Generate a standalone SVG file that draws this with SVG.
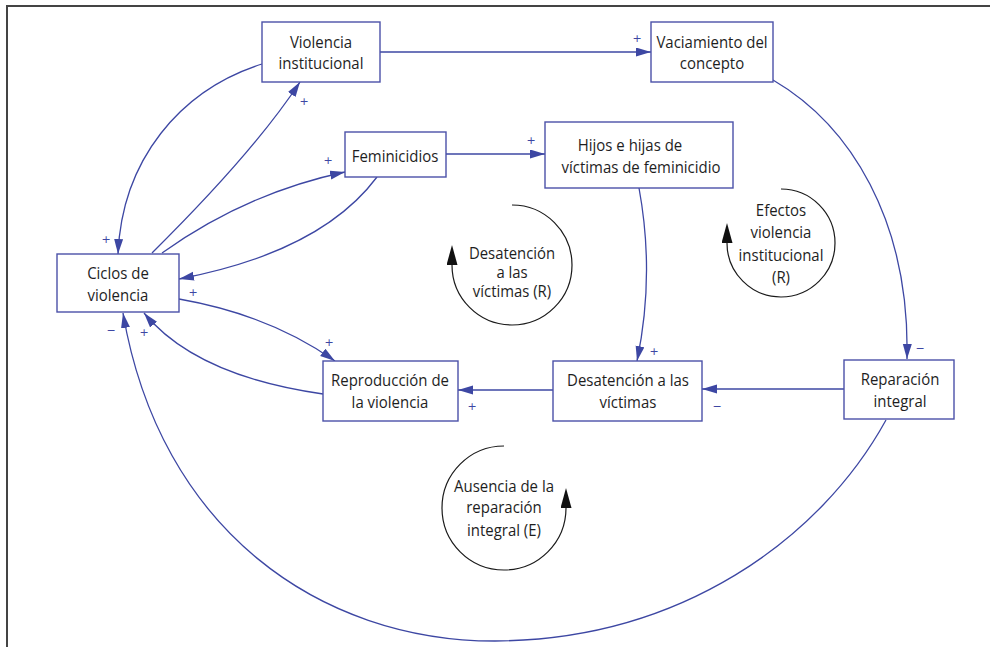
<svg xmlns="http://www.w3.org/2000/svg" width="993" height="647" viewBox="0 0 993 647">
<style>
.box{fill:#fff;stroke:#4b51a8;stroke-width:1.4}
.t{font-family:"Open Sans","Noto Sans","DejaVu Sans",sans-serif;font-size:17px;fill:#1e1e1e;text-anchor:middle}
.ts{font-size:15.5px}
.c{fill:none;stroke:#3d47a3;stroke-width:1.3}
.loop{fill:none;stroke:#1a1a1a;stroke-width:1.2}
.p{font-family:"DejaVu Sans",Verdana,sans-serif;font-size:11px;fill:#3d47a3;text-anchor:middle}
</style>
<defs>
<marker id="ah" markerUnits="userSpaceOnUse" markerWidth="17" markerHeight="11" refX="15" refY="4.5" orient="auto">
<path d="M0,0 L15,4.5 L0,9 z" fill="#3d47a3"/>
</marker>
<marker id="lh" markerUnits="userSpaceOnUse" markerWidth="22" markerHeight="12" refX="0" refY="5.5" orient="auto">
<path d="M0,0 L20,5.5 L0,11 z" fill="#111"/>
</marker>
</defs>
<rect width="993" height="647" fill="#fff"/>
<g id="frame" stroke="#444" stroke-width="2" fill="none">
<path d="M7,647 L7,6 L990,6"/>
</g>
<g id="connectors">
<path class="c" d="M380,52 L651,52" marker-end="url(#ah)"/>
<path class="c" d="M773,80 C850,125 910,220 907,359" marker-end="url(#ah)"/>
<path class="c" d="M262,64 C180,90 122,160 118,254" marker-end="url(#ah)"/>
<path class="c" d="M152,253 Q254,152 300,82" marker-end="url(#ah)"/>
<path class="c" d="M162,253 Q246,193 345,172" marker-end="url(#ah)"/>
<path class="c" d="M377,177 Q321,252 179,279" marker-end="url(#ah)"/>
<path class="c" d="M446,154 L545,154" marker-end="url(#ah)"/>
<path class="c" d="M639,188 Q655,275 637,361" marker-end="url(#ah)"/>
<path class="c" d="M844,389 L702,389" marker-end="url(#ah)"/>
<path class="c" d="M553,390 L458,390" marker-end="url(#ah)"/>
<path class="c" d="M179,299 Q270,315 335,361" marker-end="url(#ah)"/>
<path class="c" d="M323,394 Q196,376 144,313" marker-end="url(#ah)"/>
<path class="c" d="M886,420 C820,540 680,640 495,641 C320,641 160,530 123,313" marker-end="url(#ah)"/>
<text class="p" x="637" y="42">+</text>
<text class="p" x="920" y="352">−</text>
<text class="p" x="106" y="243">+</text>
<text class="p" x="304" y="105">+</text>
<text class="p" x="328" y="164">+</text>
<text class="p" x="193" y="296">+</text>
<text class="p" x="531" y="144">+</text>
<text class="p" x="654" y="355">+</text>
<text class="p" x="717" y="410">−</text>
<text class="p" x="472" y="410">+</text>
<text class="p" x="329" y="346">+</text>
<text class="p" x="144" y="336">+</text>
<text class="p" x="111" y="334">−</text>
</g>
<g id="violencia-institucional">
<rect class="box" x="262" y="22" width="118" height="60"/>
<text class="t" transform="translate(321 48) scale(.88 1)">Violencia</text>
<text class="t" transform="translate(321 69) scale(.88 1)">institucional</text>
</g>
<g id="vaciamiento">
<rect class="box" x="651" y="22" width="122" height="60"/>
<text class="t" transform="translate(712 48) scale(.88 1)">Vaciamiento del</text>
<text class="t" transform="translate(712 69) scale(.88 1)">concepto</text>
</g>
<g id="feminicidios">
<rect class="box" x="345" y="132" width="101" height="45"/>
<text class="t" transform="translate(395 162) scale(.88 1)">Feminicidios</text>
</g>
<g id="hijos">
<rect class="box" x="545" y="122" width="188" height="66"/>
<text class="t" transform="translate(630 151) scale(.88 1)">Hijos e hijas de</text>
<text class="t" transform="translate(641 173) scale(.88 1)">víctimas de feminicidio</text>
</g>
<g id="ciclos">
<rect class="box" x="57" y="254" width="122" height="58"/>
<text class="t" transform="translate(118 279) scale(.88 1)">Ciclos de</text>
<text class="t" transform="translate(118 301) scale(.88 1)">violencia</text>
</g>
<g id="reproduccion">
<rect class="box" x="323" y="361" width="135" height="60"/>
<text class="t" transform="translate(390 386) scale(.88 1)">Reproducción de</text>
<text class="t" transform="translate(390 408) scale(.88 1)">la violencia</text>
</g>
<g id="desatencion">
<rect class="box" x="553" y="361" width="149" height="60"/>
<text class="t" transform="translate(628 386) scale(.88 1)">Desatención a las</text>
<text class="t" transform="translate(628 408) scale(.88 1)">víctimas</text>
</g>
<g id="reparacion">
<rect class="box" x="844" y="360" width="110" height="59"/>
<text class="t" transform="translate(900 385) scale(.88 1)">Reparación</text>
<text class="t" transform="translate(900 407) scale(.88 1)">integral</text>
</g>
<g id="loop-desatencion">
<path class="loop" d="M512,205 A60,60 0 1 1 452,265" marker-end="url(#lh)"/>
<text class="t ts" transform="translate(512 259) scale(.96 1)">Desatención</text>
<text class="t ts" transform="translate(512 278) scale(.96 1)">a las</text>
<text class="t ts" transform="translate(512 297) scale(.96 1)">víctimas (R)</text>
</g>
<g id="loop-efectos">
<path class="loop" d="M781,189 A54,54 0 1 1 727,243" marker-end="url(#lh)"/>
<text class="t" transform="translate(781 216) scale(.88 1)">Efectos</text>
<text class="t" transform="translate(781 238) scale(.88 1)">violencia</text>
<text class="t" transform="translate(781 261) scale(.88 1)">institucional</text>
<text class="t" transform="translate(781 283) scale(.88 1)">(R)</text>
</g>
<g id="loop-ausencia">
<path class="loop" d="M504,446 A62,62 0 1 0 566,508" marker-end="url(#lh)"/>
<text class="t" transform="translate(504 492) scale(.88 1)">Ausencia de la</text>
<text class="t" transform="translate(504 513) scale(.88 1)">reparación</text>
<text class="t" transform="translate(504 536) scale(.88 1)">integral (E)</text>
</g>
</svg>
